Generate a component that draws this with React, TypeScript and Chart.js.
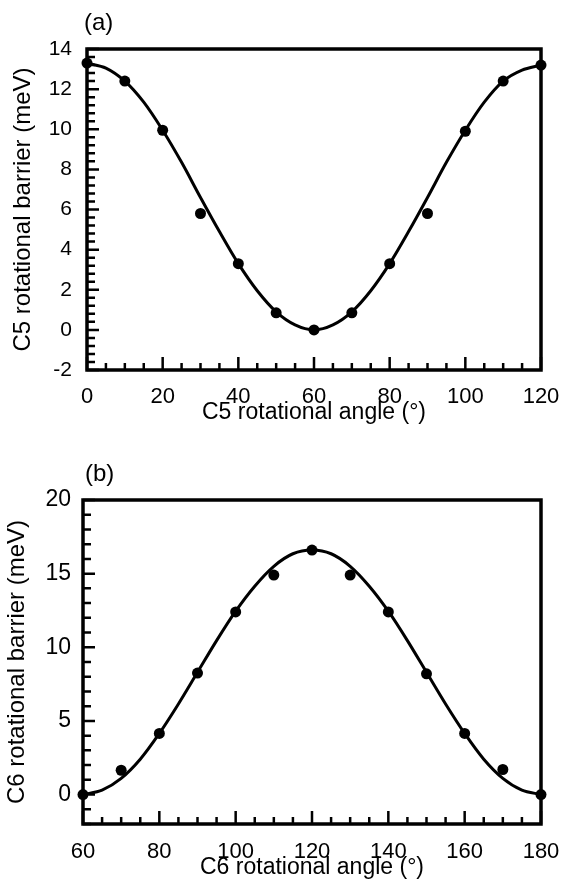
import React, { useEffect, useRef } from 'react';
import { Chart, registerables } from 'chart.js';

Chart.register(...registerables);

// ---------- Panel (a): C5 ----------
const c5Angles = [0, 10, 20, 30, 40, 50, 60, 70, 80, 90, 100, 110, 120];
const c5Barrier = [13.3, 12.4, 9.95, 5.8, 3.3, 0.85, 0.0, 0.85, 3.3, 5.8, 9.9, 12.4, 13.2];
const c5FitAngles = [0, 5, 10, 15, 20, 25, 30, 35, 40, 45, 50, 55, 60, 65, 70, 75, 80, 85, 90, 95, 100, 105, 110, 115, 120];
const c5FitBarrier = [13.3, 13.05, 12.4, 11.35, 9.95, 8.35, 6.6, 4.9, 3.3, 1.95, 0.9, 0.25, 0.0, 0.25, 0.9, 1.95, 3.3, 4.9, 6.6, 8.35, 9.95, 11.35, 12.4, 12.95, 13.2];
const c5XTicks = [0, 20, 40, 60, 80, 100, 120];
const c5YTicks = [-2, 0, 2, 4, 6, 8, 10, 12, 14];

// ---------- Panel (b): C6 ----------
const c6Angles = [60, 70, 80, 90, 100, 110, 120, 130, 140, 150, 160, 170, 180];
const c6Barrier = [0, 1.65, 4.15, 8.25, 12.4, 14.9, 16.6, 14.9, 12.4, 8.2, 4.15, 1.7, 0];
const c6FitAngles = [60, 65, 70, 75, 80, 85, 90, 95, 100, 105, 110, 115, 120, 125, 130, 135, 140, 145, 150, 155, 160, 165, 170, 175, 180];
const c6FitBarrier = [0, 0.3, 1.1, 2.4, 4.15, 6.15, 8.3, 10.45, 12.45, 14.15, 15.5, 16.35, 16.6, 16.35, 15.5, 14.15, 12.45, 10.45, 8.3, 6.15, 4.15, 2.4, 1.1, 0.3, 0];
const c6XTicks = [60, 80, 100, 120, 140, 160, 180];
const c6YTicks = [0, 5, 10, 15, 20];

const FONT = "'Liberation Sans', Arial, Helvetica, sans-serif";

type PanelSpec = {
  label: string;
  xTitle: string;
  yTitle: string;
  angles: number[];
  barrier: number[];
  fitAngles: number[];
  fitBarrier: number[];
  xTicks: number[];
  yTicks: number[];
  xMin: number; xMax: number; yMin: number; yMax: number;
  xMinor: number; xMajor: number; yMinor: number; yMajor: number;
  height: number;
  padTop: number; padRight: number; yAxisWidth: number; xAxisHeight: number;
  yTickFont: number; xTickFont: number; yTickPad: number; xTickPad: number;
  labelX: number; labelY: number;
  yTitleX: number; xTitleOffset: number;
};

const specA: PanelSpec = {
  label: '(a)', xTitle: 'C5 rotational angle (°)', yTitle: 'C5 rotational barrier (meV)',
  angles: c5Angles, barrier: c5Barrier, fitAngles: c5FitAngles, fitBarrier: c5FitBarrier,
  xTicks: c5XTicks, yTicks: c5YTicks,
  xMin: 0, xMax: 120, yMin: -2, yMax: 14,
  xMinor: 5, xMajor: 20, yMinor: 0.4, yMajor: 2,
  height: 440, padTop: 49, padRight: 22, yAxisWidth: 87, xAxisHeight: 70,
  yTickFont: 21, xTickFont: 22, yTickPad: 15, xTickPad: 14,
  labelX: 84, labelY: 30, yTitleX: 23, xTitleOffset: 49,
};

const specB: PanelSpec = {
  label: '(b)', xTitle: 'C6 rotational angle (°)', yTitle: 'C6 rotational barrier (meV)',
  angles: c6Angles, barrier: c6Barrier, fitAngles: c6FitAngles, fitBarrier: c6FitBarrier,
  xTicks: c6XTicks, yTicks: c6YTicks,
  xMin: 60, xMax: 180, yMin: -2, yMax: 20,
  xMinor: 5, xMajor: 20, yMinor: 1, yMajor: 5,
  height: 439, padTop: 60, padRight: 22, yAxisWidth: 83, xAxisHeight: 55,
  yTickFont: 23, xTickFont: 22, yTickPad: 12, xTickPad: 15,
  labelX: 85, labelY: 41, yTitleX: 17, xTitleOffset: 50,
};

function makeFramePlugin(s: PanelSpec) {
  return {
    id: 'frameTicks',
    beforeDatasetsDraw(chart: any) {
      const { ctx, chartArea } = chart;
      const xs = chart.scales.x;
      const ys = chart.scales.y;
      ctx.save();
      ctx.strokeStyle = '#000';
      ctx.lineWidth = 3.5;
      ctx.strokeRect(chartArea.left, chartArea.top, chartArea.right - chartArea.left, chartArea.bottom - chartArea.top);
      ctx.lineWidth = 2.5;
      ctx.beginPath();
      const ny = Math.round((s.yMax - s.yMin) / s.yMinor);
      for (let i = 0; i <= ny; i++) {
        const v = s.yMin + i * s.yMinor;
        const major = Math.abs(v / s.yMajor - Math.round(v / s.yMajor)) < 1e-6;
        const len = major ? 12 : 8;
        const py = ys.getPixelForValue(v);
        ctx.moveTo(chartArea.left, py);
        ctx.lineTo(chartArea.left + len, py);
      }
      const nx = Math.round((s.xMax - s.xMin) / s.xMinor);
      for (let i = 0; i <= nx; i++) {
        const v = s.xMin + i * s.xMinor;
        const major = Math.abs(v / s.xMajor - Math.round(v / s.xMajor)) < 1e-6;
        const len = major ? 13 : 7;
        const px = xs.getPixelForValue(v);
        ctx.moveTo(px, chartArea.bottom);
        ctx.lineTo(px, chartArea.bottom - len);
      }
      ctx.stroke();
      ctx.restore();
    },
    afterDraw(chart: any) {
      const { ctx, chartArea } = chart;
      ctx.save();
      ctx.fillStyle = '#000';
      ctx.font = `24px ${FONT}`;
      ctx.textAlign = 'left';
      ctx.textBaseline = 'alphabetic';
      ctx.fillText(s.label, s.labelX, s.labelY);

      ctx.font = `23px ${FONT}`;
      ctx.textAlign = 'center';
      ctx.fillText(s.xTitle, (chartArea.left + chartArea.right) / 2, chartArea.bottom + s.xTitleOffset);

      ctx.font = `24px ${FONT}`;
      ctx.translate(s.yTitleX, (chartArea.top + chartArea.bottom) / 2);
      ctx.rotate(-Math.PI / 2);
      ctx.textBaseline = 'middle';
      ctx.fillText(s.yTitle, 0, 0);
      ctx.restore();
    },
  };
}

function Panel({ spec, top }: { spec: PanelSpec; top: number }) {
  const ref = useRef<HTMLCanvasElement>(null);
  useEffect(() => {
    if (!ref.current) return;
    const s = spec;
    const chart = new Chart(ref.current, {
      type: 'scatter',
      data: {
        datasets: [
          {
            label: 'fit',
            data: s.fitAngles.map((x, i) => ({ x, y: s.fitBarrier[i] })),
            showLine: true,
            borderColor: '#000',
            borderWidth: 3,
            pointRadius: 0,
            tension: 0.3,
            clip: false as any,
          },
          {
            label: 'calc',
            data: s.angles.map((x, i) => ({ x, y: s.barrier[i] })),
            showLine: false,
            backgroundColor: '#000',
            borderColor: '#000',
            pointRadius: 5.5,
            pointBorderWidth: 0,
            clip: false as any,
          },
        ],
      },
      options: {
        responsive: false,
        animation: false,
        layout: { padding: { top: s.padTop, right: s.padRight, left: 0, bottom: 0 } },
        plugins: { legend: { display: false }, tooltip: { enabled: false }, title: { display: false } },
        scales: {
          x: {
            type: 'linear',
            min: s.xMin,
            max: s.xMax,
            grid: { display: false, drawTicks: false },
            border: { display: false },
            ticks: { color: '#000', font: { family: FONT, size: s.xTickFont }, padding: s.xTickPad, maxRotation: 0, minRotation: 0 },
            afterBuildTicks: (sc: any) => { sc.ticks = s.xTicks.map((v) => ({ value: v })); },
            afterFit: (sc: any) => {
              sc.height = s.xAxisHeight;
              sc.paddingLeft = 0; sc.paddingRight = 0; sc.paddingTop = 0; sc.paddingBottom = 0;
            },
          },
          y: {
            type: 'linear',
            min: s.yMin,
            max: s.yMax,
            grid: { display: false, drawTicks: false },
            border: { display: false },
            ticks: { color: '#000', font: { family: FONT, size: s.yTickFont }, padding: s.yTickPad },
            afterBuildTicks: (sc: any) => { sc.ticks = s.yTicks.map((v) => ({ value: v })); },
            afterFit: (sc: any) => {
              sc.width = s.yAxisWidth;
              sc.paddingLeft = 0; sc.paddingRight = 0; sc.paddingTop = 0; sc.paddingBottom = 0;
            },
          },
        },
      } as any,
      plugins: [makeFramePlugin(s)],
    });
    return () => chart.destroy();
  }, [spec]);
  return (
    <div style={{ position: 'absolute', left: 0, top, width: 563, height: spec.height }}>
      <canvas ref={ref} width={563} height={spec.height} style={{ display: 'block' }} />
    </div>
  );
}

export default function App() {
  return (
    <div style={{ position: 'absolute', left: 0, top: 0, width: 563, height: 879, background: '#fff' }}>
      <Panel spec={specA} top={0} />
      <Panel spec={specB} top={440} />
    </div>
  );
}
